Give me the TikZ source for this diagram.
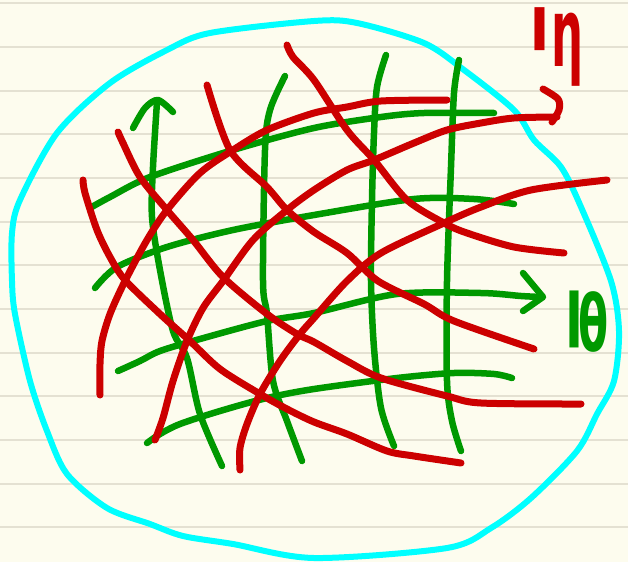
\documentclass[tikz,border=0pt]{standalone}
\usepackage{fontspec}
\newfontfamily\labfont{DejaVu Sans}
\definecolor{paper}{HTML}{FDFCEE}
\definecolor{ruling}{HTML}{E4E1D2}
\definecolor{cyanc}{HTML}{00FFFF}
\definecolor{greenc}{HTML}{009900}
\definecolor{redc}{HTML}{CC0000}
\begin{document}
\begin{tikzpicture}[x=1pt,y=-1pt,line cap=round,line join=round,
  rulestyle/.style={draw=ruling,line width=2pt},
  blob/.style={draw=cyanc,line width=6pt},
  gline/.style={draw=greenc,line width=6.5pt},
  rline/.style={draw=redc,line width=7pt},
  glabel/.style={text=greenc,font=\labfont\bfseries\fontsize{60}{60}\selectfont,inner sep=0pt},
  rlabel/.style={text=redc,font=\labfont\bfseries\fontsize{60}{60}\selectfont,inner sep=0pt}]
\useasboundingbox (0,0) rectangle (628,562);
\fill[paper] (0,0) rectangle (628,562);
\foreach \k in {0,...,12} \draw[rulestyle] (0,{3.3+43.67*\k}) -- (628,{3.3+43.67*\k});
% cyan region
\draw[blob] plot[smooth cycle] coordinates {(314,21) (357,23) (424,43) (464,70) (514,110) (534,140) (561,167) (581,207) (611,281) (619,331) (614,381) (597,414) (577,451) (531,498) (491,528) (447,548) (314,558) (233,544) (183,536) (150,524) (107,508) (67,474) (47,431) (30,381) (15,314) (12,281) (12,233) (20,200) (57,133) (110,83) (167,50) (210,33)};
% green vertical-ish lines
\draw[gline] plot[smooth] coordinates {(222,466) (200,414) (187,358) (173,331) (160,270) (152,217) (153,167) (157,102)};
\draw[gline] plot[smooth] coordinates {(133,128) (145,108) (158,100) (173,112)};
\draw[gline] plot[smooth] coordinates {(285,76) (270,110) (265,150) (263,281) (267,314) (273,381) (287,421) (302,461)};
\draw[gline] plot[smooth] coordinates {(386,55) (377,87) (374,133) (372,200) (371,281) (374,348) (381,408) (394,446)};
\draw[gline] plot[smooth] coordinates {(459,60) (454,93) (451,167) (447,281) (447,381) (452,421) (461,451)};
% green horizontal-ish lines
\draw[gline] plot[smooth] coordinates {(90,208) (110,197) (150,177) (233,150) (314,128) (381,117) (424,113) (494,113)};
\draw[gline] plot[smooth] coordinates {(95,288) (117,267) (167,247) (233,230) (314,215) (414,199) (474,199) (514,204)};
\draw[gline] plot[smooth] coordinates {(118,371) (140,361) (160,351) (200,339) (267,321) (314,313) (397,294) (481,293) (521,296) (541,297)};
\draw[gline] (523,273) -- (543,297) -- (523,311);
\draw[gline] plot[smooth] coordinates {(147,443) (160,434) (180,424) (220,411) (267,398) (314,389) (397,378) (454,373) (494,374) (512,378)};
% red descending lines
\draw[rline] plot[smooth] coordinates {(83,180) (85,193) (97,230) (110,257) (125,280) (160,314) (190,341) (220,369) (260,394) (287,409) (314,422) (347,434) (387,451) (414,456) (461,463)};
\draw[rline] plot[smooth] coordinates {(118,132) (123,143) (140,177) (167,210) (193,240) (223,277) (267,314) (297,334) (314,342) (347,361) (381,378) (447,396) (481,403) (581,404)};
\draw[rline] plot[smooth] coordinates {(207,85) (230,150) (267,187) (287,210) (314,232) (347,253) (378,281) (424,304) (454,321) (534,349)};
\draw[rline] plot[smooth] coordinates {(287,45) (293,57) (314,80) (347,130) (374,160) (407,200) (444,223) (467,233) (514,247) (564,253)};
% red ascending lines
\draw[rline] plot[smooth] coordinates {(100,395) (100,364) (102,341) (110,314) (125,281) (147,240) (167,210) (200,173) (233,150) (267,130) (314,113) (347,107) (381,101) (447,100)};
\draw[rline] plot[smooth] coordinates {(155,440) (163,418) (173,381) (187,341) (203,308) (223,281) (253,240) (287,210) (314,190) (347,170) (374,160) (414,143) (447,130) (481,123) (514,118) (557,117)};
\draw[rline] plot[smooth] coordinates {(543,89) (558,99) (559,110) (552,122)};
\draw[rline] plot[smooth] coordinates {(240,470) (240,448) (247,424) (260,394) (280,361) (300,334) (314,318) (347,281) (381,253) (444,223) (481,207) (531,190) (607,180)};
% labels
\node[rlabel,anchor=base west] (etalabel) at (523.5,66) {\raisebox{26pt}{\resizebox*{33pt}{43pt}{|}}\hspace{-5pt}\scalebox{0.75}[1.59]{η}};
\node[glabel,anchor=base west] (thetalabel) at (559,351) {\raisebox{17pt}{\resizebox*{30pt}{57pt}{|}}\hspace{-11pt}\scalebox{0.73}[1.3]{θ}};
\end{tikzpicture}
\end{document}
